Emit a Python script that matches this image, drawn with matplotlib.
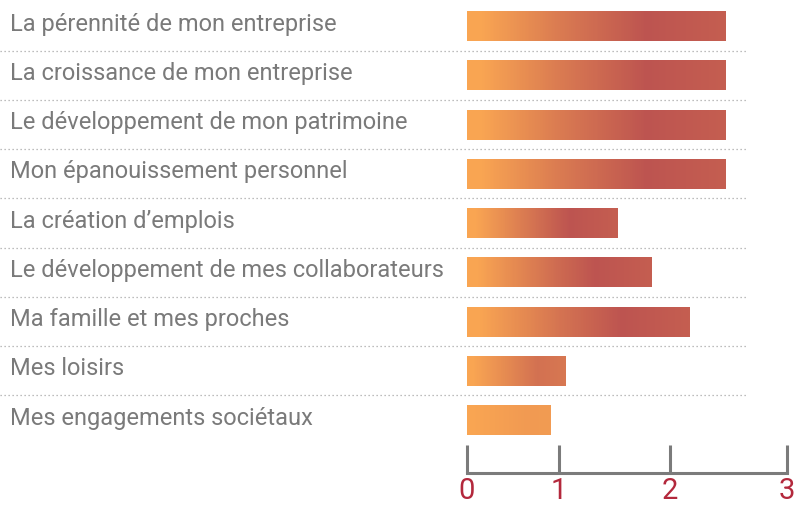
import numpy as np
import matplotlib
matplotlib.use("Agg")
import matplotlib.pyplot as plt
import matplotlib.transforms as mtransforms
from matplotlib.colors import LinearSegmentedColormap

# ── Data ───────────────────────────────────────────────────────
labels = [
    "La pérennité de mon entreprise",
    "La croissance de mon entreprise",
    "Le développement de mon patrimoine",
    "Mon épanouissement personnel",
    "La création d\u2019emplois",
    "Le développement de mes collaborateurs",
    "Ma famille et mes proches",
    "Mes loisirs",
    "Mes engagements sociétaux",
]
values = [2.48, 2.48, 2.48, 2.48, 1.53, 1.84, 2.17, 1.06, 0.91]
ticks = [0, 1, 2, 3]

# the original axis has uneven tick spacing (in px from 0)
tick_px = [0, 92, 203, 320]


def fwd(x):
    return np.interp(x, ticks, tick_px)


def inv(x):
    return np.interp(x, tick_px, ticks)


# ── Style ──────────────────────────────────────────────────────
plt.rcParams["font.family"] = ["Roboto", "DejaVu Sans"]
text_grey = "#7a7a7a"
axis_grey = "#7b7b7b"
tick_red = "#b3283c"
cmap = LinearSegmentedColormap.from_list("warm", ["#f9a552", "#bd5450"])

W, H = 797, 507
fig = plt.figure(figsize=(W / 100, H / 100), dpi=100)
ax = fig.add_axes([467 / W, (H - 473) / H, 320 / W, 473 / H])
ax.set_xscale("function", functions=(fwd, inv))
ax.set_xlim(0, 3)

row_px = 49.25
ax.set_ylim((473 - 26) / row_px, -26 / row_px)

# ── Gradient bars ──────────────────────────────────────────────
vmax = max(values)
bar_h = 30 / row_px
n = 150
for i, v in enumerate(values):
    ratio = v / vmax
    s = np.clip((ratio - 0.35) / 0.12, 0, 1)
    f = (np.arange(n) + 0.5) / n
    g = np.interp(f, [0, 0.06, 0.72, 1.0], [0, 0, 1, 0.88])
    xe = np.linspace(0, v, n + 1)
    ye = [i - bar_h / 2, i + bar_h / 2]
    mesh = ax.pcolormesh(xe, ye, np.zeros((1, n)), shading="flat",
                         antialiased=False, linewidth=0)
    mesh.set_array(None)
    mesh.set_facecolor(cmap(s * g))

# ── Row labels and dotted separators ───────────────────────────
blend = mtransforms.blended_transform_factory(fig.transFigure, ax.transData)
for i, lab in enumerate(labels):
    ax.text(10 / W, i - 0.04, lab, transform=blend, ha="left", va="center",
            fontsize=17, color=text_grey, clip_on=False)
for i in range(len(labels) - 1):
    ax.plot([0, 748 / W], [i + 0.5, i + 0.5], transform=blend, clip_on=False,
            color="#a8a8a8", linewidth=0.9, linestyle=(0, (1, 2.2)))

# ── Axis ───────────────────────────────────────────────────────
for side in ["left", "right", "top"]:
    ax.spines[side].set_visible(False)
ax.spines["bottom"].set_color(axis_grey)
ax.spines["bottom"].set_linewidth(2.2)
ax.set_yticks([])
ax.set_xticks(ticks)
ax.set_xticklabels([str(t) for t in ticks])
ax.tick_params(axis="x", direction="in", length=20, width=2.2, color=axis_grey,
               pad=3, labelsize=21, labelcolor=tick_red)
ax.patch.set_alpha(0)

fig.savefig("out.png", dpi=100)
